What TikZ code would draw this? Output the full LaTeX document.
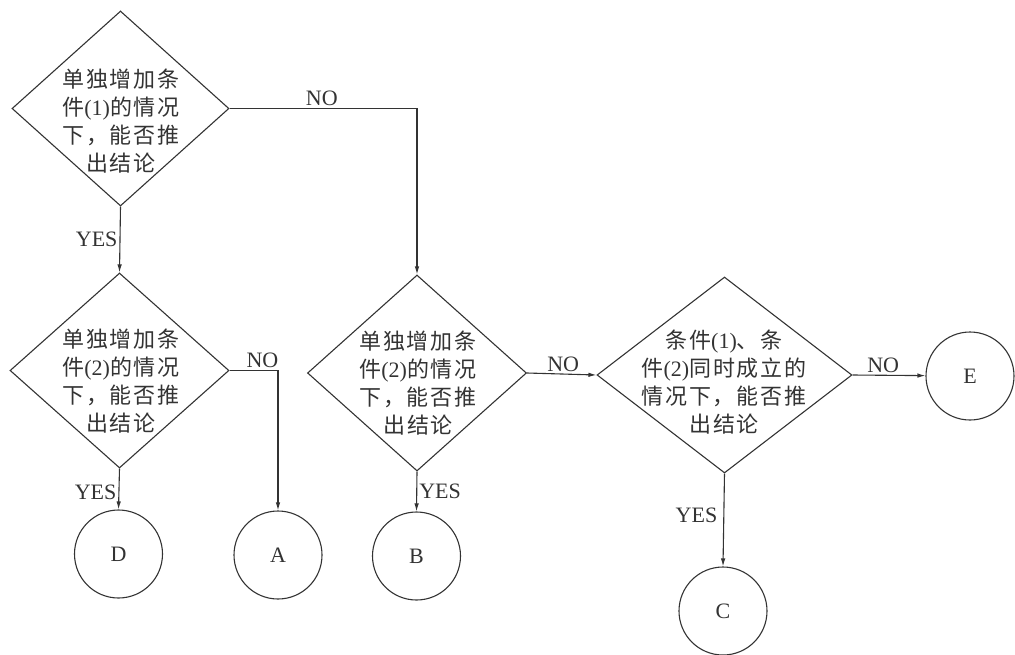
\documentclass[tikz,border=0pt]{standalone}
\usepackage{fontspec}
\setmainfont{Liberation Serif}
\newfontfamily\cjk[LetterSpace=8]{Noto Sans CJK SC}
\usetikzlibrary{arrows.meta,shapes.geometric}
\definecolor{ink}{HTML}{333333}
\begin{document}
\begin{tikzpicture}[x=1pt,y=-1pt,
  decision/.style={draw=ink, line width=1.1pt, shape=diamond, inner sep=0pt},
  qtext/.style={align=center, text=ink, inner sep=0pt,
    font=\fontsize{22}{28}\selectfont},
  outcome/.style={draw=ink, line width=1.1pt, circle, minimum size=88pt,
    inner sep=0pt, text=ink, font=\fontsize{22}{24}\selectfont},
  flow/.style={draw=ink, line width=1.1pt, -{Latex[length=8pt,width=4.5pt]}},
  lbl/.style={text=ink, font=\fontsize{22}{24}\selectfont, inner sep=2pt}]
\useasboundingbox (0,0) rectangle (1015,654);

% decision diamonds
\node[decision, minimum width=217pt, minimum height=195pt] (d1) at (120.5,108.5) {};
\node[decision, minimum width=219pt, minimum height=195pt] (d2) at (119.5,370.5) {};
\node[decision, minimum width=219pt, minimum height=196pt] (d3) at (417,373) {};
\node[decision, minimum width=255pt, minimum height=196pt] (d4) at (724.5,375) {};

% questions inside the diamonds
\node[qtext] (t1) at (121,121) {{\cjk 单独增加条}\\{\cjk 件}(1){\cjk 的情况}\\{\cjk 下，能否推}\\{\cjk 出结论}};
\node[qtext] (t2) at (121,381) {{\cjk 单独增加条}\\{\cjk 件}(2){\cjk 的情况}\\{\cjk 下，能否推}\\{\cjk 出结论}};
\node[qtext] (t3) at (418,383) {{\cjk 单独增加条}\\{\cjk 件}(2){\cjk 的情况}\\{\cjk 下，能否推}\\{\cjk 出结论}};
\node[qtext] (t4) at (724,382) {{\cjk 条件}(1){\cjk 、条}\\{\cjk 件}(2){\cjk 同时成立的}\\{\cjk 情况下，能否推}\\{\cjk 出结论}};

% outcomes
\node[outcome] (d) at (118.5,554) {D};
\node[outcome] (a) at (278,555) {A};
\node[outcome] (b) at (416.5,556) {B};
\node[outcome] (c) at (723,611) {C};
\node[outcome] (e) at (970,376) {E};

% connectors
\draw[flow] (d1.east) -| (d3.north) node[lbl, pos=0.246, above] {NO};
\draw[flow] (d1.south) -- (d2.north) node[lbl, pos=0.5, left] {YES};
\draw[flow] (d2.east) -| (a.north) node[lbl, pos=0.34, above] {NO};
\draw[flow] (d2.south) -- (d.north) node[lbl, pos=0.57, left] {YES};
\draw[flow] (d3.south) -- (b.north) node[lbl, pos=0.5, right] {YES};
\draw[flow] (d3.east) -- (d4.west) node[lbl, pos=0.52, above] {NO};
\draw[flow] (d4.east) -- (e) node[lbl, pos=0.42, above] {NO};
\draw[flow] (d4.south) -- (c.north) node[lbl, pos=0.45, left, inner sep=6pt] {YES};
\end{tikzpicture}
\end{document}
